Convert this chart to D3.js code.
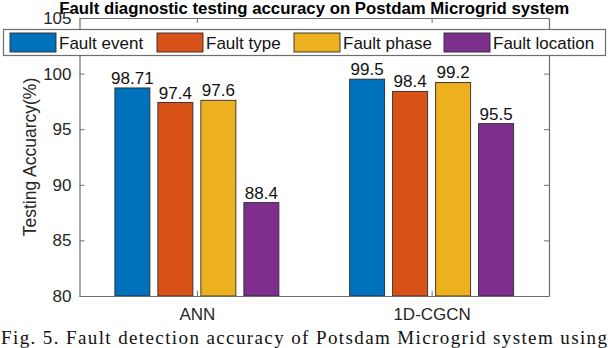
<!DOCTYPE html>
<html>
<head>
<meta charset="utf-8">
<script src="https://cdn.jsdelivr.net/npm/d3@7"></script>
<style>
  body { margin: 0; background: #fff; }
  svg { display: block; font-family: "Liberation Sans", Arial, sans-serif; }
  .axis path, .axis line { stroke: #6e6e6e; }
  .axis text { fill: #262626; font-size: 17px; font-family: "Liberation Sans", Arial, sans-serif; }
</style>
</head>
<body>
<div id="chart"></div>
<script>
// data
var categories = ["ANN", "1D-CGCN"];
var seriesNames = ["Fault event", "Fault type", "Fault phase", "Fault location"];
var faultEvent = [98.71, 99.5];
var faultType = [97.4, 98.4];
var faultPhase = [97.6, 99.2];
var faultLocation = [88.4, 95.5];
var valueLabels = [["98.71", "97.4", "97.6", "88.4"], ["99.5", "98.4", "99.2", "95.5"]];
var yTicks = [80, 85, 90, 95, 100, 105];
var colors = ["#0072BD", "#D95319", "#EDB120", "#7E2F8E"];

var W = 608, H = 348;
var margin = { top: 18, right: 59, bottom: 52, left: 79.5 };

var svg = d3.select("#chart").append("svg")
  .attr("width", W)
  .attr("height", H);

var xScale = d3.scaleLinear()
  .domain([0.5, 2.5])
  .range([margin.left, W - margin.right]);

var yScale = d3.scaleLinear()
  .domain([80, 105])
  .range([H - margin.bottom, margin.top]);

// offsets of the four bars inside a group
var inner = d3.scaleBand()
  .domain(seriesNames)
  .range([-86, 86])
  .paddingInner(0.186)
  .paddingOuter(0.093);

var allSeries = [faultEvent, faultType, faultPhase, faultLocation];
var rows = [];
categories.forEach(function(c, i) {
  seriesNames.forEach(function(s, j) {
    rows.push({ cat: i + 1, series: s, idx: j, value: allSeries[j][i], label: valueLabels[i][j] });
  });
});

// bars
svg.append("g").selectAll("rect")
  .data(rows)
  .enter()
  .append("rect")
  .attr("x", function(d) { return xScale(d.cat) + inner(d.series); })
  .attr("y", function(d) { return yScale(d.value); })
  .attr("width", inner.bandwidth())
  .attr("height", function(d) { return yScale(80) - yScale(d.value); })
  .attr("fill", function(d) { return colors[d.idx]; })
  .attr("stroke", "#2a2a2a")
  .attr("stroke-width", 0.9);

// value labels
svg.append("g").selectAll("text")
  .data(rows)
  .enter()
  .append("text")
  .attr("x", function(d) { return xScale(d.cat) + inner(d.series) + inner.bandwidth() / 2; })
  .attr("y", function(d) { return yScale(d.value) - 4; })
  .attr("text-anchor", "middle")
  .attr("font-size", 17)
  .attr("fill", "#111")
  .text(function(d) { return d.label; });

// axes (box with inward ticks)
var plotBottom = H - margin.bottom;
var plotRight = W - margin.right;

svg.append("g")
  .attr("class", "axis")
  .attr("transform", "translate(" + margin.left + ",0)")
  .call(d3.axisLeft(yScale).tickValues(yTicks).tickSize(-5).tickSizeOuter(0).tickPadding(8));

svg.append("g")
  .attr("class", "axis")
  .attr("transform", "translate(" + plotRight + ",0)")
  .call(d3.axisRight(yScale).tickValues(yTicks).tickSize(-5).tickSizeOuter(0).tickFormat(""));

svg.append("g")
  .attr("class", "axis")
  .attr("transform", "translate(0," + plotBottom + ")")
  .call(d3.axisBottom(xScale).tickValues([1, 2]).tickSize(-5).tickSizeOuter(0).tickPadding(12)
    .tickFormat(function(d) { return categories[d - 1]; }));

svg.append("g")
  .attr("class", "axis")
  .attr("transform", "translate(0," + margin.top + ")")
  .call(d3.axisTop(xScale).tickValues([1, 2]).tickSize(-5).tickSizeOuter(0).tickFormat(""));

svg.selectAll(".axis .domain").attr("stroke-width", 1.2);

// y label
svg.append("text")
  .attr("transform", "translate(30," + (margin.top + plotBottom) / 2 + ") rotate(-90)")
  .attr("text-anchor", "middle")
  .attr("dy", "0.35em")
  .attr("font-size", 17.5)
  .attr("fill", "#262626")
  .text("Testing Accuarcy(%)");

// title
svg.append("text")
  .attr("x", (margin.left + plotRight) / 2)
  .attr("y", 13.5)
  .attr("text-anchor", "middle")
  .attr("font-size", 16.8)
  .attr("font-weight", "bold")
  .attr("fill", "#000")
  .text("Fault diagnostic testing accuracy on Postdam Microgrid system");

// legend
var legendX = [10, 157, 294, 444];
var legend = svg.append("g");
legend.append("rect")
  .attr("x", 3.5).attr("y", 29.5)
  .attr("width", 602).attr("height", 26)
  .attr("fill", "#fff")
  .attr("stroke", "#6e6e6e")
  .attr("stroke-width", 1.2);

var items = legend.selectAll(".item")
  .data(seriesNames)
  .enter()
  .append("g")
  .attr("transform", function(d, i) { return "translate(" + legendX[i] + ",33)"; });

items.append("rect")
  .attr("width", 46).attr("height", 19)
  .attr("fill", function(d, i) { return colors[i]; })
  .attr("stroke", "#2a2a2a")
  .attr("stroke-width", 0.9);

items.append("text")
  .attr("x", 49)
  .attr("y", 10)
  .attr("dy", "0.35em")
  .attr("font-size", 17)
  .attr("fill", "#111")
  .text(function(d) { return d; });

// caption (cut off at the bottom of the picture in the reference)
svg.append("text")
  .attr("x", 1)
  .attr("y", 344)
  .attr("font-family", "'Liberation Serif', 'Times New Roman', serif")
  .attr("font-size", 19)
  .attr("fill", "#111")
  .attr("textLength", 606)
  .attr("lengthAdjust", "spacing")
  .text("Fig. 5.  Fault detection accuracy of Potsdam Microgrid system using");
</script>
</body>
</html>
